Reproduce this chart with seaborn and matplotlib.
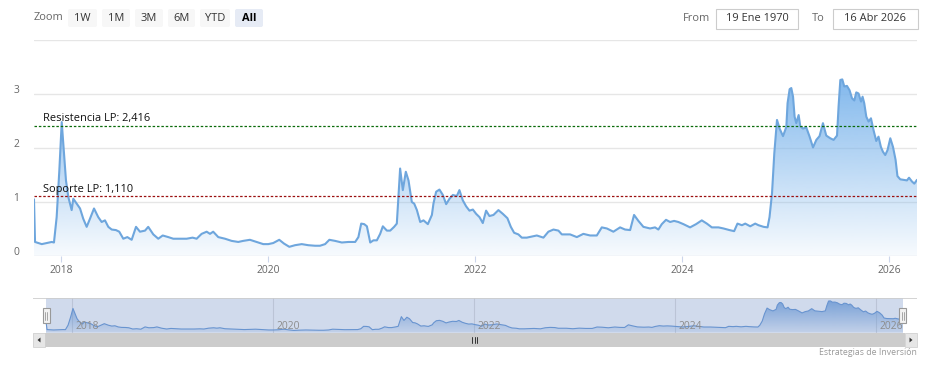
import numpy as np
import pandas as pd
import matplotlib
matplotlib.use("Agg")
import matplotlib.pyplot as plt
import matplotlib.dates as mdates
import seaborn as sns
from matplotlib.patches import Rectangle, FancyBboxPatch, Polygon
from matplotlib.transforms import ScaledTranslation

# ---------------- data ----------------
fecha_decimal = [
    2017.739, 2017.749, 2017.814, 2017.862, 2017.910, 2017.932, 2017.958, 2017.984, 2018.007, 2018.029,
    2018.048, 2018.071, 2018.103, 2018.119, 2018.152, 2018.184, 2018.215, 2018.248, 2018.280, 2018.319,
    2018.360, 2018.393, 2018.425, 2018.457, 2018.490, 2018.531, 2018.563, 2018.602, 2018.641, 2018.683,
    2018.725, 2018.763, 2018.812, 2018.843, 2018.892, 2018.940, 2018.983, 2019.037, 2019.085, 2019.150,
    2019.214, 2019.272, 2019.311, 2019.359, 2019.408, 2019.440,
    2019.471, 2019.520, 2019.585, 2019.649, 2019.713, 2019.761, 2019.826, 2019.891, 2019.955, 2020.003,
    2020.051, 2020.109, 2020.155, 2020.206, 2020.261, 2020.326, 2020.389, 2020.454, 2020.502, 2020.551,
    2020.592, 2020.647, 2020.712, 2020.776, 2020.841, 2020.872, 2020.899, 2020.928, 2020.954, 2020.986,
    2021.017, 2021.050, 2021.082, 2021.108, 2021.147, 2021.179,
    2021.217, 2021.243, 2021.275, 2021.301, 2021.330, 2021.356, 2021.388, 2021.411, 2021.437, 2021.469,
    2021.501, 2021.543, 2021.582, 2021.597, 2021.623, 2021.655, 2021.688, 2021.720, 2021.752, 2021.785,
    2021.823, 2021.848, 2021.881, 2021.913, 2021.945, 2021.978, 2022.010, 2022.042, 2022.074, 2022.106,
    2022.138, 2022.177, 2022.225, 2022.268, 2022.312, 2022.345, 2022.377, 2022.418, 2022.451, 2022.499,
    2022.548, 2022.596, 2022.660, 2022.708, 2022.757, 2022.805, 2022.838, 2022.886,
    2022.918, 2022.983, 2023.046, 2023.111, 2023.176, 2023.224, 2023.273, 2023.336, 2023.401, 2023.449,
    2023.498, 2023.536, 2023.578, 2023.626, 2023.691, 2023.739, 2023.771, 2023.804, 2023.845, 2023.884,
    2023.923, 2023.964, 2024.013, 2024.077, 2024.135, 2024.190, 2024.239, 2024.287, 2024.351, 2024.399,
    2024.457, 2024.502, 2024.534, 2024.577, 2024.609, 2024.657,
    2024.705, 2024.737, 2024.786, 2024.824, 2024.843, 2024.867, 2024.889, 2024.915, 2024.940, 2024.973,
    2025.005, 2025.017, 2025.037, 2025.053, 2025.070, 2025.085, 2025.101, 2025.124, 2025.140, 2025.166,
    2025.198, 2025.230, 2025.263, 2025.295, 2025.326, 2025.359, 2025.391, 2025.430, 2025.462, 2025.495,
    2025.510, 2025.527, 2025.546, 2025.565, 2025.591, 2025.616, 2025.640, 2025.662, 2025.681, 2025.703,
    2025.727, 2025.742, 2025.758, 2025.778, 2025.800, 2025.823, 2025.848, 2025.874, 2025.896, 2025.919,
    2025.939, 2025.961, 2025.983, 2026.010, 2026.036, 2026.061, 2026.079, 2026.106, 2026.138, 2026.171,
    2026.191, 2026.219, 2026.242, 2026.268,
]
valor = [
    1.05, 0.26, 0.22, 0.24, 0.26, 0.25, 0.72, 1.59, 2.48, 1.90,
    1.40, 1.09, 0.85, 1.06, 0.97, 0.88, 0.69, 0.54, 0.69, 0.88,
    0.72, 0.63, 0.66, 0.54, 0.49, 0.48, 0.45, 0.32, 0.35, 0.30,
    0.54, 0.45, 0.47, 0.54, 0.40, 0.32, 0.38, 0.35, 0.32, 0.32,
    0.32, 0.34, 0.32, 0.41, 0.45, 0.41,
    0.45, 0.35, 0.32, 0.28, 0.26, 0.28, 0.30, 0.26, 0.22, 0.22,
    0.24, 0.30, 0.23, 0.17, 0.20, 0.22, 0.20, 0.19, 0.19, 0.22,
    0.30, 0.28, 0.25, 0.26, 0.26, 0.35, 0.60, 0.59, 0.55, 0.25,
    0.29, 0.29, 0.41, 0.55, 0.47, 0.47,
    0.54, 0.60, 1.62, 1.22, 1.56, 1.40, 1.00, 0.97, 0.85, 0.63,
    0.66, 0.59, 0.76, 0.97, 1.19, 1.23, 1.13, 0.96, 1.06, 1.13,
    1.11, 1.22, 1.03, 0.92, 0.84, 0.86, 0.78, 0.72, 0.61, 0.84,
    0.74, 0.76, 0.85, 0.78, 0.70, 0.54, 0.43, 0.40, 0.34, 0.34,
    0.36, 0.38, 0.34, 0.45, 0.49, 0.47, 0.40, 0.40,
    0.40, 0.35, 0.41, 0.38, 0.38, 0.53, 0.51, 0.45, 0.53, 0.49,
    0.48, 0.76, 0.65, 0.54, 0.51, 0.53, 0.49, 0.59, 0.67, 0.63,
    0.65, 0.63, 0.59, 0.53, 0.59, 0.66, 0.60, 0.53, 0.53, 0.51,
    0.48, 0.46, 0.60, 0.57, 0.60, 0.55,
    0.60, 0.57, 0.54, 0.53, 0.72, 1.16, 1.90, 2.52, 2.36, 2.22,
    2.39, 2.83, 3.09, 3.11, 2.95, 2.58, 2.46, 2.61, 2.40, 2.36,
    2.38, 2.21, 2.01, 2.15, 2.22, 2.46, 2.23, 2.18, 2.15, 2.23,
    2.77, 3.26, 3.27, 3.14, 3.15, 3.07, 2.92, 2.88, 3.03, 3.01,
    2.86, 2.95, 2.83, 2.58, 2.49, 2.55, 2.33, 2.13, 2.21, 2.02,
    1.93, 1.87, 1.96, 2.18, 2.02, 1.78, 1.48, 1.42, 1.41, 1.40,
    1.45, 1.38, 1.34, 1.41,
]
resistencia = 2.416
soporte = 1.110
etiqueta_resistencia = "Resistencia LP: 2,416"
etiqueta_soporte = "Soporte LP: 1,110"
anios_ticks = [2018, 2020, 2022, 2024, 2026]
y_ticks = [0, 1, 2, 3, 4]
y_tick_labels = ["0", "1", "2", "3", ""]
botones_zoom = ["1W", "1M", "3M", "6M", "YTD", "All"]
boton_activo = "All"
texto_desde = "19 Ene 1970"
texto_hasta = "16 Abr 2026"
credito = "Estrategias de Inversión"

assert len(fecha_decimal) == len(valor)


def dec_to_date(y):
    yr = int(np.floor(y))
    a = pd.Timestamp(yr, 1, 1)
    b = pd.Timestamp(yr + 1, 1, 1)
    return a + (b - a) * (y - yr)


df = pd.DataFrame({"fecha": [dec_to_date(v) for v in fecha_decimal], "valor": valor})

# ---------------- style ----------------
sns.set_theme(style="white")
plt.rcParams["font.family"] = ["Open Sans", "DejaVu Sans"]

W, H = 932, 366
fig = plt.figure(figsize=(W / 100, H / 100), dpi=100)
fig.patch.set_facecolor("white")

LINE = "#7cb5ec"
LINE_DARK = "#6ea6dd"


def px_axes(x0, y0, x1, y1):
    return fig.add_axes([x0 / W, 1 - y1 / H, (x1 - x0) / W, (y1 - y0) / H])


def gradient_fill(ax, x, y, a_top, a_bot, color):
    xn = mdates.date2num(x)
    poly = ax.fill_between(xn, y, 0, facecolor="none", edgecolor="none")
    rgb = matplotlib.colors.to_rgb(color)
    n = 256
    img = np.zeros((n, 1, 4))
    img[:, 0, 0] = rgb[0]
    img[:, 0, 1] = rgb[1]
    img[:, 0, 2] = rgb[2]
    img[:, 0, 3] = np.linspace(a_bot, a_top, n)
    im = ax.imshow(img, extent=[xn.min(), xn.max(), 0, max(y)], origin="lower",
                   aspect="auto", interpolation="bilinear", zorder=1)
    im.set_clip_path(poly.get_paths()[0], transform=ax.transData)
    return im


# ---------------- main chart ----------------
ax = px_axes(34, 40, 917, 256)
ax.set_facecolor("white")
for s in ax.spines.values():
    s.set_visible(False)

gradient_fill(ax, df["fecha"], df["valor"], 0.95, 0.06, LINE)
sns.lineplot(data=df, x="fecha", y="valor", ax=ax, color=LINE_DARK, lw=1.5, zorder=3)

for v in y_ticks:
    ax.axhline(v, color="#e6e6e6", lw=1.0, zorder=0)

ax.axhline(resistencia, color="#0b6b0b", lw=0.9, ls=(0, (2, 1.5)), zorder=4)
ax.axhline(soporte, color="#9b1010", lw=0.9, ls=(0, (2, 1.5)), zorder=4)
for val, lab in [(resistencia, etiqueta_resistencia), (soporte, etiqueta_soporte)]:
    ax.annotate(lab, xy=(0, val), xycoords=("axes fraction", "data"),
                xytext=(6.5, 1.0), textcoords="offset points", va="bottom", ha="left",
                fontsize=7.9, color="#111111", zorder=5)

ax.set_xlim(df["fecha"].iloc[0], df["fecha"].iloc[-1])
ax.set_ylim(0, 4)
ax.set_xlabel("")
ax.set_ylabel("")
ax.set_xticks([pd.Timestamp(y, 1, 1) for y in anios_ticks])
ax.set_xticklabels([str(y) for y in anios_ticks])
ax.tick_params(axis="x", length=4.3, width=0.8, color="#ccd6eb", pad=2.5,
               labelsize=7.4, labelcolor="#666666", bottom=True)
ax.set_yticks(y_ticks)
ax.set_yticklabels(y_tick_labels)
ax.tick_params(axis="y", length=0, pad=10.5, labelsize=7.4, labelcolor="#666666")
for lbl in ax.get_yticklabels():
    lbl.set_transform(lbl.get_transform() + ScaledTranslation(0, 0.05, fig.dpi_scale_trans))

# ---------------- navigator ----------------
nav = px_axes(33, 298, 917, 333)
nav.set_facecolor("white")
for s in nav.spines.values():
    s.set_visible(False)
nav_x0 = dec_to_date(2017.609)
nav_x1 = dec_to_date(2026.408)
for y in anios_ticks:
    nav.axvline(pd.Timestamp(y, 1, 1), color="#e0e0e0", lw=0.8, zorder=0)
gradient_fill(nav, df["fecha"], df["valor"], 0.85, 0.15, "#6b9fdb")
sns.lineplot(data=df, x="fecha", y="valor", ax=nav, color="#6a9bd6", lw=0.8, zorder=3)
nav.axvspan(df["fecha"].iloc[0], df["fecha"].iloc[-1], color=(102 / 255, 133 / 255, 194 / 255),
            alpha=0.3, lw=0, zorder=4)
for y in anios_ticks:
    nav.annotate(str(y), xy=(pd.Timestamp(y, 1, 1), 0), xycoords=("data", "axes fraction"),
                 xytext=(2.3, 4.8), textcoords="offset points", va="center", ha="left",
                 fontsize=7.4, color="#8c8c8c", zorder=6)
nav.set_xlim(nav_x0, nav_x1)
nav.set_ylim(-0.1, 3.58)
nav.set_xticks([])
nav.set_yticks([])
nav.set_xlabel("")
nav.set_ylabel("")
nav.axhline(3.58, color="#cccccc", lw=1.2, zorder=5)

# ---------------- UI overlay (buttons, inputs, scrollbar) ----------------
ui = fig.add_axes([0, 0, 1, 1])
ui.set_xlim(0, W)
ui.set_ylim(H, 0)
ui.axis("off")

ui.text(34, 18, "Zoom", ha="left", va="center", fontsize=7.9, color="#666666")
btn_x = [68, 102, 135, 168, 200, 235]
btn_w = [29, 28, 28, 27, 30, 28]
for lab, bx, bw in zip(botones_zoom, btn_x, btn_w):
    active = lab == boton_activo
    ui.add_patch(FancyBboxPatch((bx, 9), bw, 18, boxstyle="round,pad=0,rounding_size=2",
                                fc="#e6ebf5" if active else "#f7f7f7", ec="none"))
    ui.text(bx + bw / 2, 18.5, lab, ha="center", va="center", fontsize=7.9,
            color="#000000" if active else "#333333", fontweight="bold" if active else "normal")

ui.text(683, 18.5, "From", ha="left", va="center", fontsize=7.9, color="#666666")
ui.add_patch(Rectangle((716, 8.5), 82, 20, fc="white", ec="#cccccc", lw=0.8))
ui.text(757, 18.5, texto_desde, ha="center", va="center", fontsize=7.9, color="#333333")
ui.text(812, 18.5, "To", ha="left", va="center", fontsize=7.9, color="#666666")
ui.add_patch(Rectangle((833, 8.5), 85, 20, fc="white", ec="#cccccc", lw=0.8))
ui.text(875.5, 18.5, texto_hasta, ha="center", va="center", fontsize=7.9, color="#333333")

# navigator handles positioned from the navigator's own scale
fig.canvas.draw()
for d in (df["fecha"].iloc[0], df["fecha"].iloc[-1]):
    hx = nav.transData.transform((mdates.date2num(d), 0))[0]
    ui.add_patch(Rectangle((hx - 3.5, 308), 7, 15, fc="#f2f2f2", ec="#999999", lw=0.8, zorder=10))
    for dx in (-1.2, 1.2):
        ui.plot([hx + dx, hx + dx], [311.5, 319.5], color="#999999", lw=0.6, zorder=11)

# scrollbar
ui.add_patch(Rectangle((33, 333), 884, 14, fc="#f2f2f2", ec="none"))
ui.add_patch(Rectangle((45, 333), 860, 14, fc="#cccccc", ec="none"))
ui.add_patch(Rectangle((33, 333), 12, 14, fc="#e6e6e6", ec="#cccccc", lw=0.5))
ui.add_patch(Rectangle((905, 333), 12, 14, fc="#e6e6e6", ec="#cccccc", lw=0.5))
ui.add_patch(Polygon([[40.5, 337.5], [40.5, 342.5], [37.5, 340]], closed=True, fc="#333333", ec="none"))
ui.add_patch(Polygon([[909.5, 337.5], [909.5, 342.5], [912.5, 340]], closed=True, fc="#333333", ec="none"))
for gx in (472, 474.5, 477):
    ui.plot([gx, gx], [337, 343], color="#333333", lw=0.7)

ui.text(917, 352.5, credito, ha="right", va="center", fontsize=6.3, color="#999999")

fig.savefig("out.png", dpi=100)
